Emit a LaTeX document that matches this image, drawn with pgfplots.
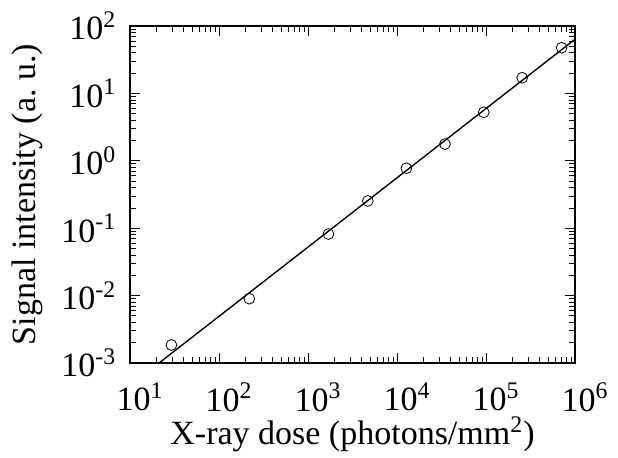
\documentclass[border=0pt]{standalone}
\usepackage{fontspec}
\setmainfont{Liberation Serif}
\usepackage{pgfplots}
\pgfplotsset{compat=1.18}
\begin{document}
\fontsize{17pt}{20pt}\selectfont
\begin{tikzpicture}
\useasboundingbox (-65pt,-47pt) rectangle (244pt,181.5pt);
\begin{axis}[
  at={(0,0)}, anchor=south west,
  scale only axis, width=222.5pt, height=168.5pt,
  xmode=log, ymode=log,
  xmin=10, xmax=1e6, ymin=1e-3, ymax=1e2,
  xtick={1e1,1e2,1e3,1e4,1e5,1e6},
  xticklabels={10\textsuperscript{1},10\textsuperscript{2},10\textsuperscript{3},10\textsuperscript{4},10\textsuperscript{5},10\textsuperscript{6}},
  ytick={1e-3,1e-2,1e-1,1,1e1,1e2},
  yticklabels={10\textsuperscript{-3},10\textsuperscript{-2},10\textsuperscript{-1},10\textsuperscript{0},10\textsuperscript{1},10\textsuperscript{2}},
  minor tick num=0, minor xtick={}, minor ytick={},
  tick align=inside, major tick length=5pt,
  tick style={black, line width=0.4pt},
  axis line style={line width=0.6pt},
  xticklabel style={yshift=-4pt, xshift=5pt},
  yticklabel style={xshift=-1pt},
  xlabel={X-ray dose (photons/mm\textsuperscript{2})},
  ylabel={Signal intensity (a.\ u.)},
  xlabel style={yshift=9pt},
  ylabel style={yshift=-2pt},
  clip=true,
]
\addplot[only marks, mark=o, mark size=2.7pt, black, line width=0.4pt] coordinates {
  (29.2,0.00185) (219,0.0090) (1698,0.082) (4700,0.254) (12740,0.775)
  (34600,1.77) (94400,5.25) (255000,17.1) (708000,47.6)
};
\addplot[black, line width=0.7pt] coordinates {(21.2,1e-3) (1e6,63.5)};
\end{axis}
\end{tikzpicture}
\end{document}
